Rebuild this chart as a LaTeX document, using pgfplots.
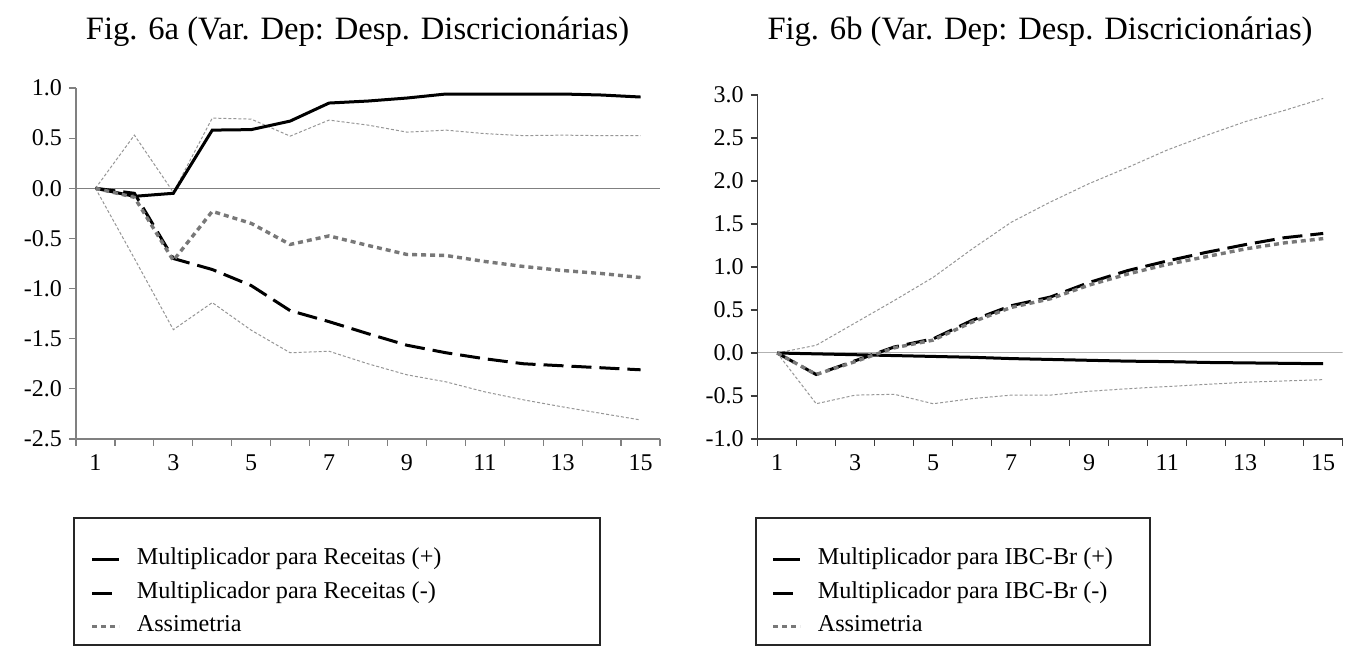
\documentclass[border=0pt]{standalone}
\usepackage{fontspec}
\setmainfont{Liberation Serif}
\usepackage{pgfplots}
\pgfplotsset{compat=1.18}

\definecolor{axgray}{RGB}{128,128,128}
\definecolor{axdark}{RGB}{60,60,60}
\definecolor{bandgray}{RGB}{150,150,150}
\definecolor{asgray}{RGB}{120,120,120}

\pgfplotsset{
 myaxis/.style={
  scale only axis,
  xmin=0.5, xmax=15.5,
  axis x line*=bottom, axis y line*=left,
  axis line style={axgray, line width=0.6pt},
  xtick={1,3,...,15},
  xticklabels={1,3,5,7,9,11,13,15},
  minor xtick={0.5,1.5,...,15.5},
  major x tick style={draw=none},
  minor x tick style={axgray, line width=0.6pt},
  y tick style={axgray, line width=0.6pt},
  tick align=outside,
  major tick length=3.5pt, minor tick length=3.5pt,
  tick label style={font=\fontsize{12}{14}\selectfont},
  x tick label style={yshift=-1pt},
  /pgf/number format/assume math mode=true,
  legend style={draw=none, fill=none, font=\fontsize{12.1}{14}\selectfont,
    row sep=3pt, column sep=6pt, inner sep=0pt, anchor=north west,
    nodes={inner sep=2pt}},
  legend cell align=left,
  legend image code/.code={\draw[##1] (0pt,-1pt) -- (13.5pt,-1pt);},
 },
 splus/.style={black, line width=1.5pt},
 sminus/.style={black, line width=1.5pt, dash pattern=on 10pt off 4pt},
 sassim/.style={asgray, line width=1.7pt, dash pattern=on 2.5pt off 2pt},
 sband/.style={bandgray, line width=0.5pt, dash pattern=on 1.5pt off 1pt},
}

\begin{document}
\begin{tikzpicture}
\useasboundingbox (0,0) rectangle (679pt,326pt);

\node[font=\fontsize{16.3}{18}\selectfont] at (178.75pt,310pt) {Fig. 6a (Var. Dep: Desp. Discricionárias)};
\node[font=\fontsize{16.3}{18}\selectfont] at (520pt,310pt) {Fig. 6b (Var. Dep: Desp. Discricionárias)};

% ---------- Fig 6a ----------
\begin{axis}[myaxis,
  at={(38pt,106.5pt)}, anchor=south west,
  width=292pt, height=175.5pt,
  ymin=-2.5, ymax=1.0,
  ytick={-2.5,-2,-1.5,-1,-0.5,0,0.5,1},
  yticklabels={-2.5,-2.0,-1.5,-1.0,-0.5,0.0,0.5,1.0},
  legend style={at={(0.024,-0.297)}},
]
\addplot[axgray, line width=0.5pt, forget plot] coordinates {(0.5,0) (15.5,0)};
\addplot[sband, forget plot] coordinates {(1,0)(2,0.53)(3,-0.04)(4,0.70)(5,0.69)(6,0.52)(7,0.68)(8,0.63)(9,0.56)(10,0.58)(11,0.545)(12,0.525)(13,0.53)(14,0.525)(15,0.525)};
\addplot[sband, forget plot] coordinates {(1,0)(2,-0.70)(3,-1.41)(4,-1.14)(5,-1.415)(6,-1.64)(7,-1.625)(8,-1.75)(9,-1.86)(10,-1.93)(11,-2.03)(12,-2.11)(13,-2.18)(14,-2.245)(15,-2.31)};
\addplot[splus] coordinates {(1,0)(2,-0.08)(3,-0.05)(4,0.58)(5,0.585)(6,0.67)(7,0.85)(8,0.87)(9,0.90)(10,0.94)(11,0.94)(12,0.94)(13,0.94)(14,0.93)(15,0.91)};
\addlegendentry{Multiplicador para Receitas (+)}
\addplot[sminus] coordinates {(1,0)(2,-0.05)(3,-0.70)(4,-0.81)(5,-0.97)(6,-1.22)(7,-1.33)(8,-1.45)(9,-1.565)(10,-1.64)(11,-1.70)(12,-1.75)(13,-1.77)(14,-1.79)(15,-1.81)};
\addlegendentry{Multiplicador para Receitas (-)}
\addplot[sassim] coordinates {(1,0)(2,-0.09)(3,-0.72)(4,-0.23)(5,-0.35)(6,-0.56)(7,-0.475)(8,-0.57)(9,-0.66)(10,-0.67)(11,-0.73)(12,-0.78)(13,-0.82)(14,-0.85)(15,-0.89)};
\addlegendentry{Assimetria}
\end{axis}

% ---------- Fig 6b ----------
\begin{axis}[myaxis,
  at={(378.85pt,106.5pt)}, anchor=south west,
  width=292.5pt, height=172pt,
  ymin=-1.0, ymax=3.0,
  axis line style={axdark, line width=0.6pt},
  y tick style={axdark, line width=0.6pt},
  minor x tick style={axdark, line width=0.6pt},
  ytick={-1,-0.5,0,0.5,1,1.5,2,2.5,3},
  yticklabels={-1.0,-0.5,0.0,0.5,1.0,1.5,2.0,2.5,3.0},
  legend style={at={(0.0227,-0.3025)}},
]
\addplot[gray!60, line width=0.5pt, forget plot] coordinates {(0.5,0) (15.5,0)};
\addplot[sband, forget plot] coordinates {(1,0)(2,0.09)(3,0.35)(4,0.61)(5,0.88)(6,1.21)(7,1.52)(8,1.755)(9,1.97)(10,2.16)(11,2.36)(12,2.53)(13,2.69)(14,2.82)(15,2.96)};
\addplot[sband, forget plot] coordinates {(1,0)(2,-0.59)(3,-0.49)(4,-0.48)(5,-0.59)(6,-0.53)(7,-0.49)(8,-0.49)(9,-0.445)(10,-0.415)(11,-0.39)(12,-0.365)(13,-0.34)(14,-0.325)(15,-0.31)};
\addplot[splus] coordinates {(1,0)(2,-0.01)(3,-0.02)(4,-0.03)(5,-0.04)(6,-0.05)(7,-0.065)(8,-0.075)(9,-0.085)(10,-0.095)(11,-0.10)(12,-0.11)(13,-0.115)(14,-0.12)(15,-0.125)};
\addlegendentry{Multiplicador para IBC-Br (+)}
\addplot[sminus] coordinates {(1,0)(2,-0.25)(3,-0.09)(4,0.07)(5,0.165)(6,0.38)(7,0.55)(8,0.65)(9,0.82)(10,0.96)(11,1.07)(12,1.17)(13,1.26)(14,1.34)(15,1.39)};
\addlegendentry{Multiplicador para IBC-Br (-)}
\addplot[sassim] coordinates {(1,0)(2,-0.25)(3,-0.10)(4,0.06)(5,0.15)(6,0.36)(7,0.53)(8,0.63)(9,0.79)(10,0.92)(11,1.03)(12,1.12)(13,1.21)(14,1.28)(15,1.33)};
\addlegendentry{Assimetria}
\end{axis}

\draw[black!85, line width=0.7pt] (37pt,3.5pt) rectangle (300pt,67pt);
\draw[black!85, line width=0.7pt] (378pt,3.5pt) rectangle (575pt,67pt);
\end{tikzpicture}
\end{document}
